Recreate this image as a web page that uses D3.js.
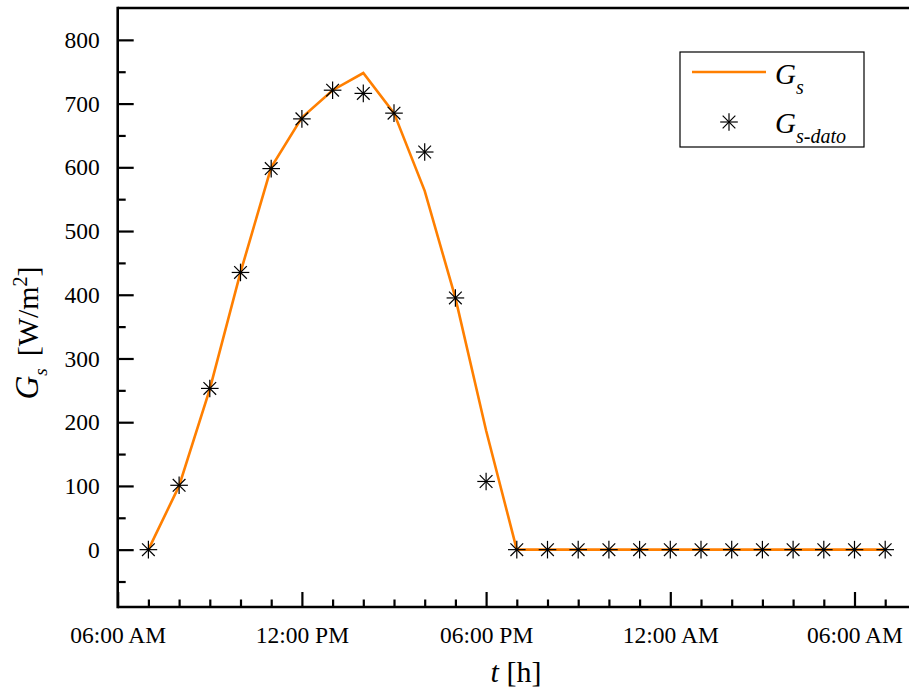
<!DOCTYPE html>
<html>
<head>
<meta charset="utf-8">
<script src="https://cdn.jsdelivr.net/npm/d3@7"></script>
<style>
  html, body { margin: 0; padding: 0; background: #fff; }
  svg, svg text { font-family: "Liberation Serif", "Times New Roman", serif; }
  svg { display: block; }
</style>
</head>
<body>
<svg id="chart" width="909" height="690"></svg>
<script>
// ---- data ----
const hours = [7,8,9,10,11,12,13,14,15,16,17,18,19,20,21,22,23,24,25,26,27,28,29,30,31];
const gsModel = [0,100,252,435,600,678,721,748,685,563,395,187,0,0,0,0,0,0,0,0,0,0,0,0,0];
const gsData  = [0,101,253,435,598,676,721,716,685,624,395,107,0,0,0,0,0,0,0,0,0,0,0,0,0];
const xMajorTicks = [6,12,18,24,30];
const xTickLabels = ["06:00 AM","12:00 PM","06:00 PM","12:00 AM","06:00 AM"];
const yMajorTicks = [0,100,200,300,400,500,600,700,800];
const yMinorTicks = [-50,50,150,250,350,450,550,650,750];

const svg = d3.select("#chart");
const plotLeft = 117.7, plotTop = 8, plotBottom = 607;
const x = d3.scaleLinear().domain([6, 32]).range([plotLeft, plotLeft + 26 * 30.7]);
const y = d3.scaleLinear().domain([-90, 850]).range([plotBottom, plotTop]);

const xMinor = d3.range(6, 32).filter(h => !xMajorTicks.includes(h));
const serif = "Liberation Serif, Times New Roman, serif";

// axes
svg.append("g").attr("transform", `translate(0,${plotBottom})`)
  .call(d3.axisBottom(x).tickValues(xMinor).tickSize(-7.5).tickFormat(""));
svg.append("g").attr("transform", `translate(0,${plotBottom})`)
  .call(d3.axisBottom(x).tickValues(xMajorTicks).tickSize(-15).tickPadding(19)
  .tickFormat((d, i) => xTickLabels[i]));

svg.append("g").attr("transform", `translate(${plotLeft},0)`)
  .call(d3.axisLeft(y).tickValues(yMinorTicks).tickSize(-8).tickFormat(""));
svg.append("g").attr("transform", `translate(${plotLeft},0)`)
  .call(d3.axisLeft(y).tickValues(yMajorTicks).tickSize(-16).tickPadding(18)
  .tickFormat(d3.format("d")));

svg.selectAll("g").attr("font-family", serif);
svg.selectAll(".domain").remove();
svg.selectAll(".tick line").attr("stroke", "#000").attr("stroke-width", 2.2);
svg.selectAll(".tick text").attr("fill", "#000")
  .attr("font-family", serif)
  .attr("font-size", 23.5);

// frame lines
svg.append("line").attr("x1", plotLeft).attr("x2", 909).attr("y1", plotBottom).attr("y2", plotBottom)
  .attr("stroke", "#000").attr("stroke-width", 2.6);
svg.append("line").attr("x1", plotLeft).attr("x2", 909).attr("y1", plotTop).attr("y2", plotTop)
  .attr("stroke", "#000").attr("stroke-width", 2.6);
svg.append("line").attr("x1", plotLeft).attr("x2", plotLeft).attr("y1", plotTop - 1.3).attr("y2", plotBottom + 1.3)
  .attr("stroke", "#000").attr("stroke-width", 2.6);

// line series
const line = d3.line().x((d, i) => x(hours[i])).y(d => y(d));
svg.append("path").datum(gsModel).attr("d", line)
  .attr("fill", "none").attr("stroke", "#FF7F00").attr("stroke-width", 2.6)
  .attr("stroke-linejoin", "miter");

// star markers
function star(g, r) {
  const dd = r * 0.72;
  g.append("line").attr("x1", -r).attr("x2", r).attr("y1", 0).attr("y2", 0);
  g.append("line").attr("x1", 0).attr("x2", 0).attr("y1", -r).attr("y2", r);
  g.append("line").attr("x1", -dd).attr("x2", dd).attr("y1", -dd).attr("y2", dd);
  g.append("line").attr("x1", -dd).attr("x2", dd).attr("y1", dd).attr("y2", -dd);
  g.selectAll("line").attr("stroke", "#000").attr("stroke-width", 1.2);
}
svg.append("g").selectAll("g").data(gsData).join("g")
  .attr("transform", (d, i) => `translate(${x(hours[i])},${y(d)})`)
  .each(function() { star(d3.select(this), 8.8); });

// legend
const lg = svg.append("g");
lg.append("rect").attr("x", 680).attr("y", 52).attr("width", 184).attr("height", 95)
  .attr("fill", "#fff").attr("stroke", "#000").attr("stroke-width", 1.2);
lg.append("line").attr("x1", 692).attr("x2", 766).attr("y1", 72).attr("y2", 72)
  .attr("stroke", "#FF7F00").attr("stroke-width", 2.6);
star(lg.append("g").attr("transform", "translate(729,122)"), 8.8);
const t1 = lg.append("text").attr("x", 775).attr("y", 84).style("font-style", "italic");
t1.append("tspan").text("G").style("font-size", "29px");
t1.append("tspan").text("s").attr("dy", 10).style("font-size", "20px");
const t2 = lg.append("text").attr("x", 775).attr("y", 133).style("font-style", "italic");
t2.append("tspan").text("G").style("font-size", "29px");
t2.append("tspan").text("s-dato").attr("dy", 10).style("font-size", "20px");

// axis titles
const xt = svg.append("text").attr("x", 516).attr("y", 682).attr("text-anchor", "middle")
  .style("font-size", "30px");
xt.append("tspan").text("t").style("font-style", "italic");
xt.append("tspan").text("\u00a0[h]");

const yt = svg.append("text").attr("transform", "rotate(-90)")
  .attr("x", -333).attr("y", 38).attr("text-anchor", "middle").style("font-size", "30px");
yt.append("tspan").text("G").style("font-style", "italic").style("font-size", "33px");
yt.append("tspan").text("s").style("font-style", "italic").style("font-size", "19px").attr("dy", 9);
yt.append("tspan").text("[W/m").attr("dy", -9).attr("dx", 12);
yt.append("tspan").text("2").style("font-size", "20px").attr("dy", -11);
yt.append("tspan").text("]").attr("dy", 11);
</script>
</body>
</html>
